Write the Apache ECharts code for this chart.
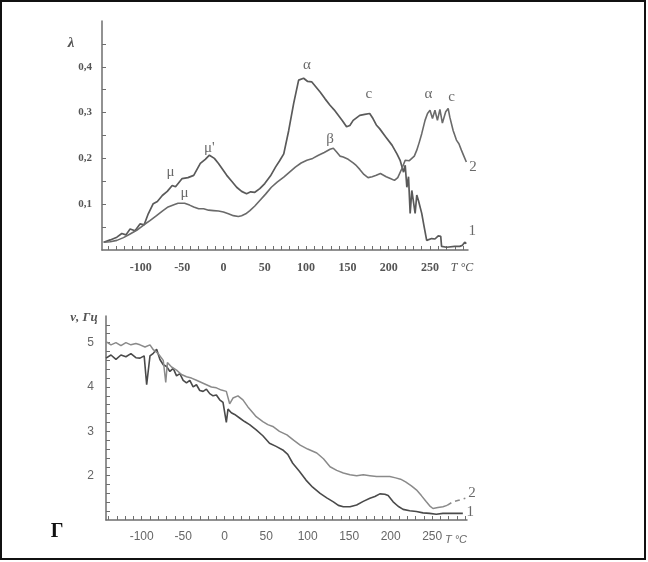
<!DOCTYPE html>
<html>
<head>
<meta charset="utf-8">
<script src="https://cdn.jsdelivr.net/npm/echarts@6/dist/echarts.min.js"></script>
<style>
  html, body { margin: 0; padding: 0; background: #fff; }
  #chart { width: 648px; height: 562px; }
</style>
</head>
<body>
<div id="chart"></div>
<script>
// upper panel: loss factor lambda vs T, curves 1 and 2
const topT1 = [-145, -137, -129, -123, -118, -113, -107, -101, -96, -91, -85, -80, -74, -68, -62, -58, -50, -43, -36, -28, -22, -17, -11, -6, 4, 10, 16, 22, 28, 33, 38, 44, 50, 57, 63, 68, 73, 79, 85, 91, 97, 102, 107, 112, 117, 123, 129, 134, 139, 144, 149, 153, 157, 165, 171, 177, 181, 185, 189, 196, 204, 210, 214, 218, 220, 222, 224, 226, 228, 232, 234, 236, 240, 243, 246, 252, 256, 260, 263, 264, 270, 280, 286, 289, 292, 294]
const topL1 = [0.017, 0.022, 0.028, 0.036, 0.033, 0.046, 0.042, 0.057, 0.055, 0.079, 0.101, 0.106, 0.119, 0.128, 0.141, 0.138, 0.156, 0.158, 0.163, 0.189, 0.198, 0.207, 0.2, 0.189, 0.163, 0.15, 0.137, 0.128, 0.123, 0.127, 0.126, 0.134, 0.145, 0.162, 0.181, 0.195, 0.21, 0.261, 0.32, 0.371, 0.375, 0.368, 0.367, 0.356, 0.345, 0.33, 0.316, 0.306, 0.294, 0.282, 0.269, 0.272, 0.283, 0.294, 0.296, 0.298, 0.287, 0.273, 0.265, 0.248, 0.229, 0.21, 0.195, 0.17, 0.185, 0.137, 0.16, 0.08, 0.13, 0.08, 0.12, 0.108, 0.08, 0.05, 0.021, 0.025, 0.024, 0.031, 0.03, 0.008, 0.006, 0.008, 0.008, 0.01, 0.017, 0.014]
const topT2 = [-145, -137, -129, -121, -113, -105, -97, -89, -81, -74, -67, -60, -55, -47, -41, -36, -30, -24, -18, -12, -6, 0, 6, 12, 18, 22, 27, 32, 38, 44, 51, 58, 65, 73, 80, 87, 94, 101, 108, 115, 122, 129, 133, 137, 141, 145, 151, 157, 161, 165, 170, 175, 180, 185, 190, 197, 202, 207, 211, 216, 220, 225, 228, 231, 234, 237, 240, 244, 247, 250, 253, 256, 259, 262, 265, 269, 272, 274, 278, 282, 285, 288, 291, 294]
const topL2 = [0.017, 0.018, 0.021, 0.027, 0.035, 0.043, 0.054, 0.064, 0.075, 0.085, 0.094, 0.099, 0.102, 0.102, 0.098, 0.094, 0.09, 0.09, 0.087, 0.086, 0.085, 0.083, 0.079, 0.075, 0.073, 0.075, 0.079, 0.086, 0.096, 0.108, 0.122, 0.137, 0.148, 0.159, 0.17, 0.181, 0.19, 0.196, 0.2, 0.207, 0.213, 0.22, 0.222, 0.214, 0.205, 0.203, 0.198, 0.19, 0.184, 0.176, 0.165, 0.158, 0.16, 0.163, 0.167, 0.16, 0.156, 0.152, 0.158, 0.178, 0.196, 0.195, 0.2, 0.205, 0.218, 0.235, 0.254, 0.283, 0.298, 0.305, 0.287, 0.305, 0.283, 0.307, 0.277, 0.302, 0.309, 0.29, 0.261, 0.24, 0.232, 0.218, 0.205, 0.192]

// lower panel: frequency nu (Hz) vs T
const botT1 = [-143, -137, -131, -125, -119, -113, -107, -102, -97, -94, -92, -90, -86, -82, -78, -74, -70, -66, -62, -58, -54, -50, -46, -42, -38, -34, -30, -26, -22, -18, -14, -10, -6, -2, 2, 4, 8, 12, 18, 24, 30, 38, 46, 54, 62, 70, 76, 82, 90, 98, 106, 115, 123, 131, 137, 143, 151, 159, 167, 175, 181, 187, 193, 197, 203, 209, 215, 223, 231, 239, 247, 255, 263, 275, 287]
const botV1 = [4.65, 4.72, 4.62, 4.72, 4.68, 4.75, 4.66, 4.65, 4.7, 4.05, 4.01, 4.7, 4.76, 4.85, 4.62, 4.5, 4.46, 4.35, 4.42, 4.25, 4.3, 4.15, 4.09, 4.15, 4.0, 4.05, 3.92, 3.9, 3.95, 3.85, 3.8, 3.82, 3.71, 3.65, 3.2, 3.5, 3.42, 3.38, 3.3, 3.22, 3.15, 3.03, 2.9, 2.73, 2.66, 2.58, 2.48, 2.28, 2.1, 1.9, 1.74, 1.6, 1.5, 1.41, 1.33, 1.3, 1.3, 1.34, 1.42, 1.49, 1.53, 1.59, 1.58, 1.55, 1.41, 1.31, 1.24, 1.21, 1.19, 1.16, 1.15, 1.13, 1.15, 1.15, 1.15]
const botT2 = [-143, -137, -131, -125, -119, -113, -107, -102, -96, -90, -86, -80, -74, -71, -69, -64, -58, -52, -46, -40, -34, -28, -22, -16, -10, -4, 2, 6, 10, 16, 22, 28, 34, 38, 46, 52, 58, 66, 75, 83, 91, 100, 111, 119, 127, 135, 143, 151, 159, 167, 175, 183, 191, 199, 206, 212, 218, 225, 231, 237, 243, 247, 251, 257, 263, 268, 275, 283, 290]
const botV2 = [5.02, 4.95, 5.0, 4.93, 5.0, 4.95, 4.98, 4.95, 4.9, 4.95, 4.84, 4.75, 4.6, 4.1, 4.55, 4.45, 4.38, 4.28, 4.23, 4.2, 4.15, 4.1, 4.05, 4.0, 3.98, 3.93, 3.9, 3.62, 3.75, 3.8, 3.71, 3.55, 3.42, 3.33, 3.22, 3.15, 3.11, 3.0, 2.92, 2.8, 2.69, 2.6, 2.51, 2.38, 2.2, 2.12, 2.06, 2.02, 2.0, 2.02, 2.0, 1.98, 1.98, 1.98, 1.95, 1.92, 1.86, 1.77, 1.68, 1.55, 1.41, 1.32, 1.26, 1.28, 1.3, 1.33, 1.41, 1.45, 1.49]
const dashFrom = 268

// tick labels
const xLabels = [-100, -50, 0, 50, 100, 150, 200, 250]
const topYLabels = [0.1, 0.2, 0.3, 0.4]
const botYLabels = [2, 3, 4, 5]

// peak labels on the upper panel and curve numbers
const topNotes = [
  ['μ', -64, 0.17], ['μ', -47, 0.124], ['μ\'', -17, 0.222], ['α', 101, 0.404],
  ['β', 129, 0.242], ['c', 176, 0.34], ['α', 248, 0.34], ['c', 276, 0.334],
  ['2', 302, 0.18], ['1', 301, 0.042]
]
const botNotes = [['2', 298, 1.61], ['1', 296, 1.19]]

function zip(xs, ys) {
  return xs.map((x, i) => [x, ys[i]])
}
function range(a, b, step) {
  const out = []
  for (let v = a; v <= b + 1e-9; v += step) out.push(Math.round(v * 100) / 100)
  return out
}

const axisColor = '#6e6e6e'
const serif = '"Liberation Serif", "DejaVu Serif", serif'
const sans = '"Liberation Sans", "DejaVu Sans", sans-serif'

function noteSeries(notes, xi, yi) {
  return {
    type: 'scatter',
    xAxisIndex: xi,
    yAxisIndex: yi,
    clip: false,
    silent: true,
    symbolSize: 1,
    itemStyle: { color: 'rgba(0,0,0,0)' },
    data: notes.map(n => ({ name: n[0], value: [n[1], n[2]] })),
    label: {
      show: true,
      position: 'inside',
      formatter: p => p.name,
      fontFamily: serif,
      fontSize: 15,
      color: '#444'
    }
  }
}

const chart = echarts.init(document.getElementById('chart'))
chart.setOption({
  animation: false,
  backgroundColor: '#fff',
  grid: [
    { left: 102, right: 180, top: 21, bottom: 312 },
    { left: 106, right: 181, top: 316, bottom: 42 }
  ],
  xAxis: [
    {
      type: 'value', gridIndex: 0, min: -147, max: 296,
      splitLine: { show: false },
      axisLine: { onZero: false, lineStyle: { color: axisColor, width: 1.5 } },
      axisTick: { inside: true, length: 4, customValues: range(-140, 290, 10), lineStyle: { color: axisColor } },
      axisLabel: { customValues: xLabels, margin: 12, fontFamily: serif, fontWeight: 'bold', fontSize: 12, color: '#555' }
    },
    {
      type: 'value', gridIndex: 1, min: -143, max: 292,
      splitLine: { show: false },
      axisLine: { onZero: false, lineStyle: { color: axisColor, width: 1.5 } },
      axisTick: { inside: true, length: 4, customValues: range(-140, 290, 10), lineStyle: { color: axisColor } },
      axisLabel: { customValues: xLabels, margin: 11, fontFamily: sans, fontSize: 12, color: '#666' }
    }
  ],
  yAxis: [
    {
      type: 'value', gridIndex: 0, min: 0, max: 0.5,
      splitLine: { show: false },
      axisLine: { show: true, onZero: false, lineStyle: { color: axisColor, width: 1.5 } },
      axisTick: { show: true, inside: true, length: 4, customValues: range(0.05, 0.45, 0.05), lineStyle: { color: axisColor } },
      axisLabel: {
        customValues: topYLabels, margin: 10, fontFamily: serif, fontWeight: 'bold', fontSize: 11, color: '#555',
        formatter: v => v.toFixed(1).replace('.', ',')
      }
    },
    {
      type: 'value', gridIndex: 1, min: 1, max: 5.6,
      splitLine: { show: false },
      axisLine: { show: true, onZero: false, lineStyle: { color: axisColor, width: 1.5 } },
      axisTick: { show: true, inside: true, length: 4, customValues: range(1.2, 5.4, 0.2), lineStyle: { color: axisColor } },
      axisLabel: { customValues: botYLabels, margin: 12, fontFamily: sans, fontSize: 12, color: '#666' }
    }
  ],
  series: [
    {
      name: '1', type: 'line', xAxisIndex: 0, yAxisIndex: 0, symbol: 'none',
      lineStyle: { color: '#5a5a5a', width: 1.7 }, data: zip(topT1, topL1)
    },
    {
      name: '2', type: 'line', xAxisIndex: 0, yAxisIndex: 0, symbol: 'none',
      lineStyle: { color: '#6a6a6a', width: 1.6 }, data: zip(topT2, topL2)
    },
    {
      name: '1', type: 'line', xAxisIndex: 1, yAxisIndex: 1, symbol: 'none',
      lineStyle: { color: '#4a4a4a', width: 1.6 }, data: zip(botT1, botV1)
    },
    {
      name: '2', type: 'line', xAxisIndex: 1, yAxisIndex: 1, symbol: 'none',
      lineStyle: { color: '#8a8a8a', width: 1.5 },
      data: zip(botT2, botV2).filter(p => p[0] <= dashFrom)
    },
    {
      name: '2', type: 'line', xAxisIndex: 1, yAxisIndex: 1, symbol: 'none',
      lineStyle: { color: '#8a8a8a', width: 1.5, type: [5, 4] },
      data: zip(botT2, botV2).filter(p => p[0] >= dashFrom)
    },
    noteSeries(topNotes, 0, 0),
    noteSeries(botNotes, 1, 1)
  ],
  graphic: [
    {
      type: 'rect', silent: true,
      shape: { x: 1, y: 1, width: 644, height: 558 },
      style: { fill: 'none', stroke: '#111', lineWidth: 2 }
    },
    {
      type: 'text', x: 71, y: 43,
      style: { text: 'λ', font: 'italic bold 15px ' + serif, fill: '#555', align: 'center', verticalAlign: 'middle' }
    },
    {
      type: 'text', x: 462, y: 268,
      style: { text: 'T °C', font: 'italic 12px ' + serif, fill: '#555', align: 'center', verticalAlign: 'middle' }
    },
    {
      type: 'text', x: 84, y: 318,
      style: { text: 'ν, Гц', font: 'italic bold 13px ' + serif, fill: '#555', align: 'center', verticalAlign: 'middle' }
    },
    {
      type: 'text', x: 456, y: 540,
      style: { text: 'T °C', font: 'italic 11px ' + sans, fill: '#666', align: 'center', verticalAlign: 'middle' }
    },
    {
      type: 'text', x: 57, y: 532,
      style: { text: 'Г', font: 'bold 20px ' + serif, fill: '#111', align: 'center', verticalAlign: 'middle' }
    }
  ]
})
</script>
</body>
</html>
